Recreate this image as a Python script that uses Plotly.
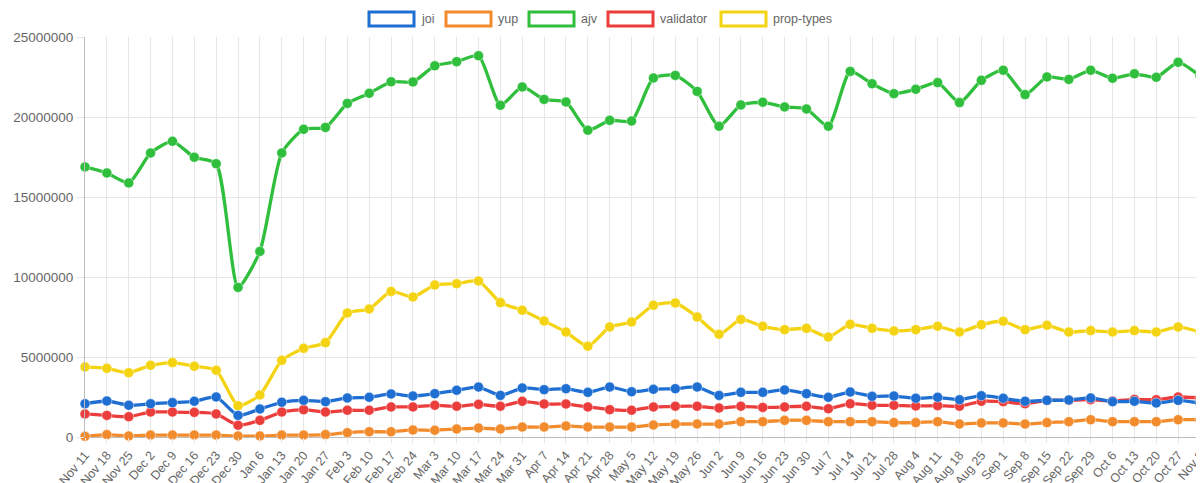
import plotly.graph_objects as go

weeks = ["Nov 11", "Nov 18", "Nov 25", "Dec 2", "Dec 9", "Dec 16", "Dec 23", "Dec 30",
         "Jan 6", "Jan 13", "Jan 20", "Jan 27", "Feb 3", "Feb 10", "Feb 17", "Feb 24",
         "Mar 3", "Mar 10", "Mar 17", "Mar 24", "Mar 31", "Apr 7", "Apr 14", "Apr 21",
         "Apr 28", "May 5", "May 12", "May 19", "May 26", "Jun 2", "Jun 9", "Jun 16",
         "Jun 23", "Jun 30", "Jul 7", "Jul 14", "Jul 21", "Jul 28", "Aug 4", "Aug 11",
         "Aug 18", "Aug 25", "Sep 1", "Sep 8", "Sep 15", "Sep 22", "Sep 29", "Oct 6",
         "Oct 13", "Oct 20", "Oct 27", "Nov 3"]

# weekly downloads, in millions
joi = [2.08, 2.25, 1.98, 2.08, 2.15, 2.23, 2.50, 1.35, 1.75, 2.17, 2.29, 2.21, 2.44, 2.48,
       2.69, 2.56, 2.71, 2.92, 3.12, 2.60, 3.06, 2.96, 3.02, 2.79, 3.12, 2.83, 2.98, 3.02,
       3.12, 2.60, 2.79, 2.79, 2.94, 2.71, 2.48, 2.81, 2.54, 2.56, 2.42, 2.48, 2.33, 2.58,
       2.42, 2.23, 2.29, 2.31, 2.44, 2.21, 2.23, 2.12, 2.29, 2.12]
yup = [0.04, 0.15, 0.06, 0.12, 0.12, 0.12, 0.12, 0.06, 0.06, 0.12, 0.12, 0.15, 0.27, 0.33,
       0.33, 0.44, 0.42, 0.50, 0.56, 0.50, 0.62, 0.62, 0.69, 0.62, 0.62, 0.62, 0.75, 0.81,
       0.81, 0.81, 0.96, 0.96, 1.04, 1.04, 0.96, 0.96, 0.96, 0.90, 0.90, 0.96, 0.81, 0.88,
       0.88, 0.81, 0.90, 0.96, 1.08, 0.96, 0.96, 0.96, 1.08, 1.08]
ajv = [16.88, 16.50, 15.88, 17.75, 18.48, 17.48, 17.08, 9.35, 11.60, 17.75, 19.23, 19.35,
       20.85, 21.48, 22.20, 22.19, 23.20, 23.46, 23.83, 20.73, 21.88, 21.10, 20.94, 19.17,
       19.79, 19.75, 22.44, 22.60, 21.60, 19.42, 20.75, 20.92, 20.63, 20.50, 19.42, 22.85,
       22.08, 21.46, 21.73, 22.15, 20.90, 22.29, 22.92, 21.40, 22.50, 22.35, 22.92, 22.42,
       22.70, 22.48, 23.42, 22.56]
validator = [1.44, 1.35, 1.27, 1.56, 1.56, 1.54, 1.44, 0.73, 1.04, 1.56, 1.71, 1.56, 1.67,
             1.67, 1.88, 1.88, 1.98, 1.92, 2.04, 1.92, 2.23, 2.06, 2.06, 1.88, 1.71, 1.67,
             1.88, 1.92, 1.92, 1.81, 1.92, 1.85, 1.88, 1.92, 1.77, 2.08, 1.98, 1.98, 1.94,
             1.96, 1.92, 2.23, 2.21, 2.08, 2.29, 2.29, 2.33, 2.25, 2.35, 2.33, 2.50, 2.44]
prop_types = [4.38, 4.29, 4.02, 4.48, 4.65, 4.42, 4.17, 1.96, 2.63, 4.79, 5.54, 5.90, 7.75,
              8.00, 9.10, 8.75, 9.50, 9.58, 9.75, 8.40, 7.92, 7.25, 6.56, 5.67, 6.88, 7.19,
              8.23, 8.38, 7.50, 6.42, 7.35, 6.92, 6.71, 6.79, 6.25, 7.04, 6.79, 6.63, 6.71,
              6.92, 6.56, 7.02, 7.23, 6.71, 6.98, 6.56, 6.65, 6.56, 6.65, 6.56, 6.88, 6.56]

series_names = ["joi", "yup", "ajv", "validator", "prop-types"]
series_values = [joi, yup, ajv, validator, prop_types]
series_colors = ["#1f6fd2", "#f28b2c", "#2fbf3c", "#ec3d3d", "#f4d313"]

y_ticks = [0, 5000000, 10000000, 15000000, 20000000, 25000000]

# the page body has an 8px default margin; compensate so the plot lands where
# the reference has it (plot area: x 85..1200, y 37..437 in window pixels)
OFF = 8
W, H = 1204 - OFF, 483 - OFF
ML, MT = 85 - OFF, 37 - OFF
MR = W - (1200 - OFF)
MB = H - (437 - OFF)
PW, PH = W - ML - MR, H - MT - MB

fig = go.Figure()

# Chart.js draws the first dataset on top, so add traces in reverse order
for name, vals, color in reversed(list(zip(series_names, series_values, series_colors))):
    fig.add_trace(go.Scatter(
        x=weeks, y=[v * 1e6 for v in vals], mode="lines+markers", name=name,
        showlegend=False, cliponaxis=False,
        line=dict(color=color, width=3.3, shape="spline", smoothing=0.6),
        marker=dict(size=10, color=color, line=dict(color="rgba(255,255,255,0.45)", width=1)),
    ))

# Chart.js-style legend: outlined boxes + labels (window pixels -> paper coords)
box_left_px = [369, 446, 529, 608, 721]
box_w_px = 45
box_top_px, box_bot_px = 12, 26


def px_x(p):
    return (p - OFF - ML) / PW


def px_y(p):
    return (H - MB - (p - OFF)) / PH


for i, (name, color) in enumerate(zip(series_names, series_colors)):
    x0 = box_left_px[i]
    fig.add_shape(type="rect", xref="paper", yref="paper",
                  x0=px_x(x0), x1=px_x(x0 + box_w_px),
                  y0=px_y(box_bot_px), y1=px_y(box_top_px),
                  line=dict(color=color, width=3), fillcolor="white")
    fig.add_annotation(xref="paper", yref="paper", x=px_x(x0 + box_w_px + 5),
                       y=px_y((box_top_px + box_bot_px) / 2), text=name,
                       showarrow=False, xanchor="left", yanchor="middle",
                       font=dict(size=12.5, color="#666666"))

fig.update_layout(
    width=W, height=H,
    margin=dict(l=ML, r=MR, t=MT, b=MB),
    paper_bgcolor="white", plot_bgcolor="white",
    font=dict(family="Liberation Sans, Arial, sans-serif", size=13, color="#666666"),
    showlegend=False,
    hovermode=False,
)

fig.update_xaxes(
    type="category", range=[0, len(weeks) - 1], tickangle=-50, automargin=False,
    showgrid=True, gridcolor="#e6e6e6", gridwidth=1,
    ticks="outside", ticklen=5, tickcolor="#e6e6e6",
    showline=False, zeroline=False,
    tickfont=dict(size=12.5, color="#666666"),
)
fig.update_yaxes(
    range=[0, 25000000], tickvals=y_ticks, ticktext=[str(t) for t in y_ticks],
    automargin=False,
    showgrid=True, gridcolor="#e6e6e6", gridwidth=1,
    ticks="outside", ticklen=8, tickcolor="#e6e6e6",
    showline=True, linecolor="#bdbdbd", linewidth=1,
    zeroline=True, zerolinecolor="#bdbdbd", zerolinewidth=1,
    tickfont=dict(size=13.5, color="#666666"),
)

fig.write_html("out.html")
